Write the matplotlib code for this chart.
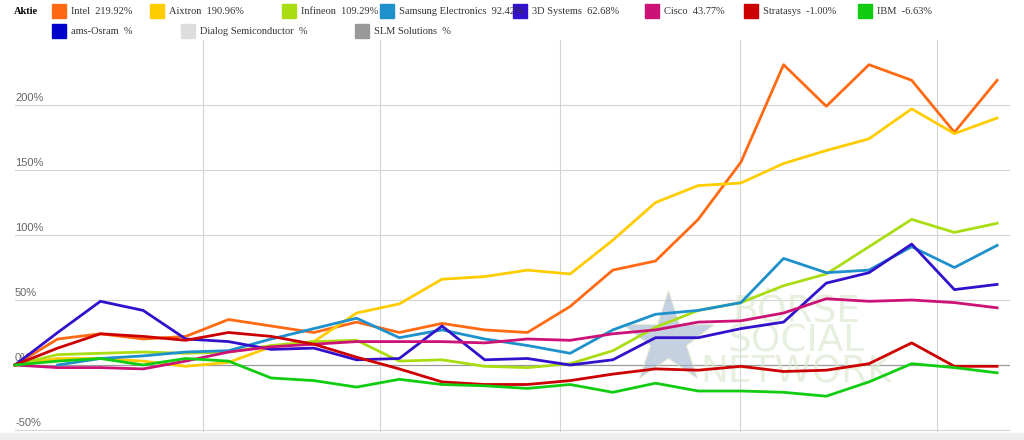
import matplotlib.pyplot as plt
from matplotlib.patches import Rectangle

W, H = 1024, 440

series = {
    "Intel": ("#ff6a13", "219.92%", [0, 20, 24, 20, 22, 35, 30, 25, 33, 25, 32, 27, 25, 45, 73, 80, 112, 156, 231, 199, 231, 219, 179, 219]),
    "Aixtron": ("#ffcc00", "190.96%", [0, 5, 5, 3, -1, 2, 14, 18, 40, 47, 66, 68, 73, 70, 96, 125, 138, 140, 155, 165, 174, 197, 178, 190]),
    "Infineon": ("#aadd11", "109.29%", [0, 8, 9, 10, 9, 10, 15, 18, 19, 3, 4, -1, -2, 1, 11, 29, 42, 48, 61, 70, 91, 112, 102, 109]),
    "Samsung Electronics": ("#1e90cc", "92.42%", [None, 0, 5, 7, 10, 11, 20, 28, 36, 21, 27, 20, 15, 9, 27, 39, 42, 48, 82, 71, 73, 91, 75, 92]),
    "3D Systems": ("#3311cc", "62.68%", [0, 25, 49, 42, 20, 18, 12, 13, 4, 5, 30, 4, 5, 0, 4, 21, 21, 28, 33, 63, 71, 93, 58, 62]),
    "Cisco": ("#cc1177", "43.77%", [0, -2, -2, -3, 3, 10, 14, 16, 18, 18, 18, 17, 20, 19, 24, 27, 33, 34, 40, 51, 49, 50, 48, 44]),
    "Stratasys": ("#cc0000", "-1.00%", [0, 13, 24, 22, 19, 25, 22, 16, 6, -3, -13, -15, -15, -12, -7, -3, -4, -1, -5, -4, 1, 17, -1, -1]),
    "IBM": ("#11cc11", "-6.63%", [0, 3, 5, 0, 5, 3, -10, -12, -17, -11, -15, -16, -18, -15, -21, -14, -20, -20, -21, -24, -13, 1, -2, -6]),
}
extra = {
    "ams-Osram": "#0000cc",
    "Dialog Semiconductor": "#dddddd",
    "SLM Solutions": "#999999",
}

fig = plt.figure(figsize=(W / 100, H / 100), dpi=100)
ax = fig.add_axes([0, (H - 432) / H, 1010 / W, (432 - 40) / H])

# grid
for p in [-50, 50, 100, 150, 200]:
    ax.axhline(p, xmin=15 / 1010, color="#d4d4d4", lw=0.8, zorder=0)
ax.axhline(0, xmin=15 / 1010, color="#999999", lw=0.9, zorder=0)
for v in [4.4, 8.55, 12.76, 16.98, 21.6]:
    ax.axvline(v, color="#d4d4d4", lw=0.8, zorder=0)
for p in [-50, 0, 50, 100, 150, 200]:
    ax.text(0, p + 1.5, f"{p}%", fontsize=8, color="#666666", ha="left", va="bottom",
            family="Liberation Sans")

ax.text(18.3, 18, "BÖRSE\nSOCIAL\nNETWORK", fontsize=27, color="#dde9d0", alpha=0.7,
        ha="center", va="center", linespacing=0.8, zorder=1)
ax.plot([15.3], [20], marker="*", ms=70, color="#9fb3cc", alpha=0.6, mec="#e8eecc", zorder=1)

for name, (col, pct, vals) in series.items():
    xs = [i for i, v in enumerate(vals) if v is not None]
    ys = [v for v in vals if v is not None]
    ax.plot(xs, ys, color=col, lw=2, zorder=3)

ax.set_xlim(-15 / 42.7, (1010 - 15) / 42.7)
ax.set_ylim((365 - 432) / 1.3, (365 - 40) / 1.3)
ax.axis("off")

# legend
def item(x, y, col, label):
    fig.patches.append(Rectangle((x / W, 1 - (y + 7) / H), 14 / W, 14 / H, color=col,
                                 transform=fig.transFigure, figure=fig))
    fig.text((x + 19) / W, 1 - y / H, label, fontsize=7.5, va="center", color="#333333",
             family="Liberation Serif")

fig.text(14 / W, 1 - 11 / H, "Aktie", fontsize=7.5, weight="bold", va="center", family="Liberation Serif")
xs1 = [52, 150, 282, 380, 513, 645, 744, 858]
for x, (name, (col, pct, _)) in zip(xs1, series.items()):
    item(x, 11, col, f"{name}  {pct}")
for x, (name, col) in zip([52, 181, 355], extra.items()):
    item(x, 31, col, f"{name}  %")

fig.patches.append(Rectangle((0, 0), 1, (H - 433) / H, color="#eeeeee",
                             transform=fig.transFigure, figure=fig))
fig.savefig("out.png", dpi=100)
